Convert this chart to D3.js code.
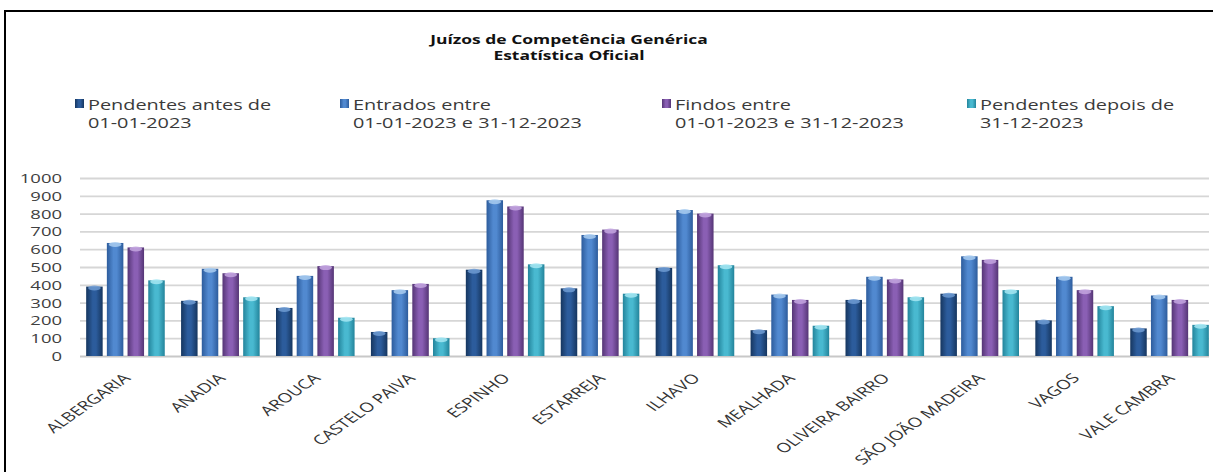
<!DOCTYPE html>
<html>
<head>
<meta charset="utf-8">
<script src="https://cdn.jsdelivr.net/npm/d3@7"></script>
<style>
  html, body { margin: 0; padding: 0; background: #ffffff; overflow: hidden; }
  svg { display: block; }
  text { font-family: "Open Sans", "Noto Sans", sans-serif; }
</style>
</head>
<body>
<svg id="chart" width="1213" height="472"></svg>
<script>
// ---- data ----
const categories = ["ALBERGARIA", "ANADIA", "AROUCA", "CASTELO PAIVA", "ESPINHO", "ESTARREJA",
  "ILHAVO", "MEALHADA", "OLIVEIRA BAIRRO", "SÃO JOÃO MADEIRA", "VAGOS", "VALE CAMBRA"];
const pendentesAntes = [390, 310, 270, 135, 485, 380, 495, 145, 315, 350, 200, 155];
const entrados = [635, 490, 450, 370, 875, 680, 820, 345, 445, 560, 445, 340];
const findos = [610, 465, 505, 405, 840, 710, 800, 315, 430, 540, 370, 315];
const pendentesDepois = [425, 330, 215, 100, 515, 350, 510, 170, 330, 370, 280, 175];
const seriesLabels = [
  ["Pendentes antes de", "01-01-2023"],
  ["Entrados entre", "01-01-2023 e 31-12-2023"],
  ["Findos entre", "01-01-2023 e 31-12-2023"],
  ["Pendentes depois de", "31-12-2023"]
];
const yTicks = [0, 100, 200, 300, 400, 500, 600, 700, 800, 900, 1000];
const titleLines = ["Juízos de Competência Genérica", "Estatística Oficial"];

// ---- styles ----
const seriesValues = [pendentesAntes, entrados, findos, pendentesDepois];
const colors = [
  { edge: "#16365f", mid: "#2c5c9c", cap: "#6f9bd2" },
  { edge: "#2d5c9c", mid: "#5189d0", cap: "#a9cdf0" },
  { edge: "#553575", mid: "#8a5fb4", cap: "#c3a6df" },
  { edge: "#23849b", mid: "#49b9d0", cap: "#a6e6f2" }
];
const SX = 1.42; // horizontal stretch of all text, as in the picture

const svg = d3.select("#chart");
const defs = svg.append("defs");
colors.forEach((c, i) => {
  const g = defs.append("linearGradient").attr("id", "grad" + i)
    .attr("x1", "0").attr("x2", "1").attr("y1", "0").attr("y2", "0");
  g.append("stop").attr("offset", "0%").attr("stop-color", c.edge);
  g.append("stop").attr("offset", "40%").attr("stop-color", c.mid);
  g.append("stop").attr("offset", "60%").attr("stop-color", c.mid);
  g.append("stop").attr("offset", "100%").attr("stop-color", c.edge);
});

// frame (top and left edges visible)
svg.append("path").attr("d", "M5,472 L5,11 L1213,11")
  .attr("fill", "none").attr("stroke", "#000").attr("stroke-width", 2);

// title
svg.selectAll("text.title").data(titleLines).join("text")
  .attr("class", "title")
  .attr("transform", (d, i) => `translate(569,${44 + i * 16}) scale(${SX},1)`)
  .attr("text-anchor", "middle")
  .attr("font-size", "12.3px").attr("font-weight", "bold").attr("fill", "#111")
  .text(d => d);

// legend
const legendX = [88, 353, 675, 980];
const leg = svg.selectAll("g.leg").data(seriesLabels).join("g").attr("class", "leg")
  .attr("transform", (d, i) => `translate(${legendX[i]},0)`);
leg.append("rect").attr("x", -13).attr("y", 99).attr("width", 9).attr("height", 9)
  .attr("fill", (d, i) => `url(#grad${i})`);
leg.selectAll("text").data(d => d).join("text")
  .attr("transform", (d, j) => `translate(0,${110 + j * 18}) scale(${SX},1)`)
  .attr("font-size", "14px").attr("fill", "#3a3a3a")
  .text(d => d);

// scales
const plotLeft = 78, plotRight = 1217;
const yScale = d3.scaleLinear().domain([0, 1000]).range([356, 178]);
const x0 = d3.scaleBand().domain(categories).range([plotLeft, plotRight])
  .paddingInner(0.172).paddingOuter(0.086);
const x1 = d3.scaleBand().domain([0, 1, 2, 3]).range([0, x0.bandwidth()])
  .paddingInner(0.203).paddingOuter(0);

// y axis with gridlines
const gridLeft = 80, gridRight = 1209;
const yAxis = svg.append("g").attr("transform", `translate(${gridLeft},0)`)
  .call(d3.axisLeft(yScale).tickValues(yTicks).tickSize(-(gridRight - gridLeft)).tickFormat(d3.format("d")));
yAxis.select(".domain").remove();
yAxis.selectAll(".tick line").attr("stroke", (d) => d === 0 ? "#c8c8c8" : "#d6d6d6").attr("stroke-width", 1.8);
yAxis.selectAll(".tick text")
  .attr("x", null).attr("dy", null)
  .attr("transform", `translate(-18,4.5) scale(${SX},1)`)
  .attr("text-anchor", "end")
  .attr("font-size", "13px").attr("fill", "#404040")
  .style("font-family", "'Open Sans', sans-serif");

// bars
const groups = svg.append("g").selectAll("g").data(categories).join("g")
  .attr("transform", d => `translate(${x0(d)},0)`);
groups.each(function (cat, ci) {
  const g = d3.select(this);
  const data = seriesValues.map((vals, si) => ({ si, v: vals[ci] }));
  g.selectAll("rect").data(data).join("rect")
    .attr("x", d => x1(d.si)).attr("width", x1.bandwidth())
    .attr("y", d => yScale(d.v)).attr("height", d => yScale(0) - yScale(d.v))
    .attr("fill", d => `url(#grad${d.si})`);
  g.selectAll("ellipse").data(data).join("ellipse")
    .attr("cx", d => x1(d.si) + x1.bandwidth() / 2).attr("cy", d => yScale(d.v) + 1.5)
    .attr("rx", x1.bandwidth() / 2 - 2).attr("ry", 2.5)
    .attr("fill", d => colors[d.si].cap).attr("opacity", 0.85);
});

// x axis labels
const xAxis = svg.append("g").attr("transform", `translate(0,${yScale(0)})`)
  .call(d3.axisBottom(x0).tickSize(0));
xAxis.select(".domain").remove();
xAxis.selectAll(".tick text")
  .attr("y", null).attr("dy", null)
  .attr("transform", `translate(6,23) scale(${SX},1) rotate(-45)`)
  .attr("text-anchor", "end")
  .attr("font-size", "13.2px").attr("fill", "#333")
  .style("font-family", "'Open Sans', sans-serif");
</script>
</body>
</html>
